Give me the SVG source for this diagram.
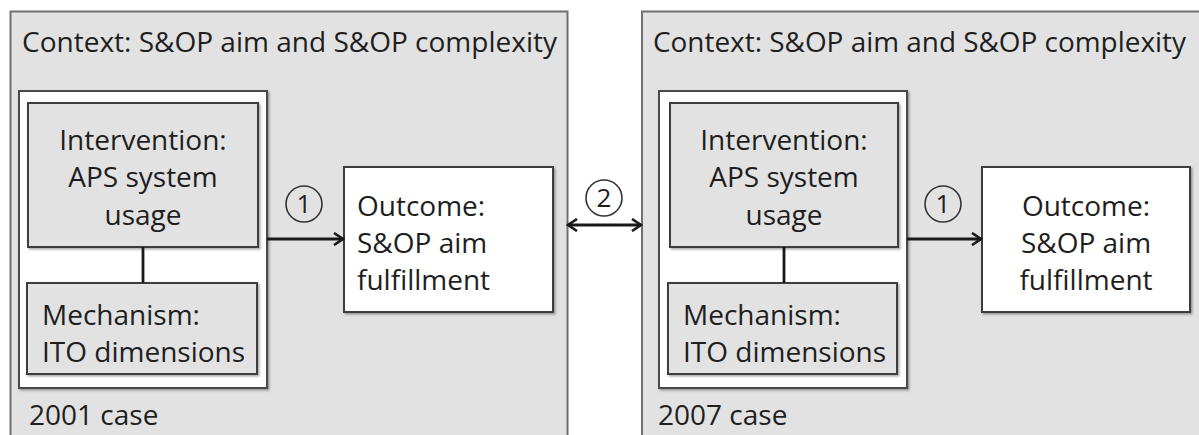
<svg xmlns="http://www.w3.org/2000/svg" width="1199" height="435" viewBox="0 0 1199 435">
  <defs>
    <marker id="chev" viewBox="0 0 14 14" refX="12" refY="7" markerWidth="14" markerHeight="14" markerUnits="userSpaceOnUse" orient="auto-start-reverse">
      <path d="M3,1 L12,7 L3,13" fill="none" stroke="#1a1a1a" stroke-width="2.6" stroke-linejoin="miter"/>
    </marker>
    <filter id="sh" x="-5%" y="-5%" width="115%" height="115%">
      <feDropShadow dx="1.5" dy="1.5" stdDeviation="1" flood-color="#000" flood-opacity="0.35"/>
    </filter>
  </defs>
  <style>
    .outer { fill: #e2e2e2; stroke: #707070; stroke-width: 2; }
    .wrap { fill: #ffffff; stroke: #4a4a4a; stroke-width: 2; filter: url(#sh); }
    .gbox { fill: #e2e2e2; stroke: #3c3c3c; stroke-width: 2; filter: url(#sh); }
    .wbox { fill: #ffffff; stroke: #3c3c3c; stroke-width: 2; filter: url(#sh); }
    text { font-family: "Open Sans", "Noto Sans", "DejaVu Sans", sans-serif; font-size: 28px; fill: #1e1e1e; }
    .c { text-anchor: middle; }
    .num { font-size: 26px; text-anchor: middle; }
    .circ { fill: none; stroke: #333; stroke-width: 1.6; }
    .link { fill: none; stroke: #1a1a1a; stroke-width: 2.8; }
  </style>

  <g id="case2001">
    <rect class="outer" x="10.5" y="11.5" width="557" height="440"/>
    <text x="22" y="52" textLength="535" lengthAdjust="spacingAndGlyphs">Context: S&amp;OP aim and S&amp;OP complexity</text>
    <text x="29" y="425">2001 case</text>
  </g>
  <g id="case2007">
    <rect class="outer" x="642" y="11.5" width="580" height="440"/>
    <text x="653" y="52" textLength="533" lengthAdjust="spacingAndGlyphs">Context: S&amp;OP aim and S&amp;OP complexity</text>
    <text x="658" y="425">2007 case</text>
  </g>

  <g id="wrap2001"><rect class="wrap" x="19" y="91" width="248" height="297"/></g>
  <g id="wrap2007"><rect class="wrap" x="659" y="91" width="248" height="297"/></g>

  <g id="intervention2001">
    <rect class="gbox" x="28" y="103" width="230" height="144"/>
    <text class="c" x="143" y="150">Intervention:</text>
    <text class="c" x="143" y="187">APS system</text>
    <text class="c" x="143" y="225">usage</text>
  </g>
  <g id="mechanism2001">
    <rect class="gbox" x="27" y="283" width="230" height="91"/>
    <text x="42" y="325">Mechanism:</text>
    <text x="42" y="362">ITO dimensions</text>
  </g>
  <g id="outcome2001">
    <rect class="wbox" x="344" y="167" width="209" height="145"/>
    <text x="357" y="216">Outcome:</text>
    <text x="357" y="253">S&amp;OP aim</text>
    <text x="357" y="290">fulfillment</text>
  </g>

  <g id="intervention2007">
    <rect class="gbox" x="670" y="103" width="228" height="144"/>
    <text class="c" x="784" y="150">Intervention:</text>
    <text class="c" x="784" y="187">APS system</text>
    <text class="c" x="784" y="225">usage</text>
  </g>
  <g id="mechanism2007">
    <rect class="gbox" x="668" y="283" width="229" height="91"/>
    <text x="683" y="325">Mechanism:</text>
    <text x="683" y="362">ITO dimensions</text>
  </g>
  <g id="outcome2007">
    <rect class="wbox" x="982" y="167" width="208" height="145"/>
    <text class="c" x="1086" y="216">Outcome:</text>
    <text class="c" x="1086" y="253">S&amp;OP aim</text>
    <text class="c" x="1086" y="290">fulfillment</text>
  </g>

  <g id="connectors">
    <line class="link" x1="143" y1="247" x2="143" y2="283"/>
    <line class="link" x1="784" y1="247" x2="784" y2="283"/>
    <line class="link" x1="267" y1="239" x2="343" y2="239" marker-end="url(#chev)"/>
    <line class="link" x1="907" y1="239" x2="981" y2="239" marker-end="url(#chev)"/>
    <line class="link" x1="568" y1="225" x2="641" y2="225" marker-start="url(#chev)" marker-end="url(#chev)"/>
  </g>

  <g id="labels">
    <circle class="circ" cx="304" cy="204" r="18"/>
    <text class="num" x="304" y="213">1</text>
    <circle class="circ" cx="943" cy="204" r="18"/>
    <text class="num" x="943" y="213">1</text>
    <circle class="circ" cx="604" cy="198" r="18"/>
    <text class="num" x="604" y="207">2</text>
  </g>
</svg>
